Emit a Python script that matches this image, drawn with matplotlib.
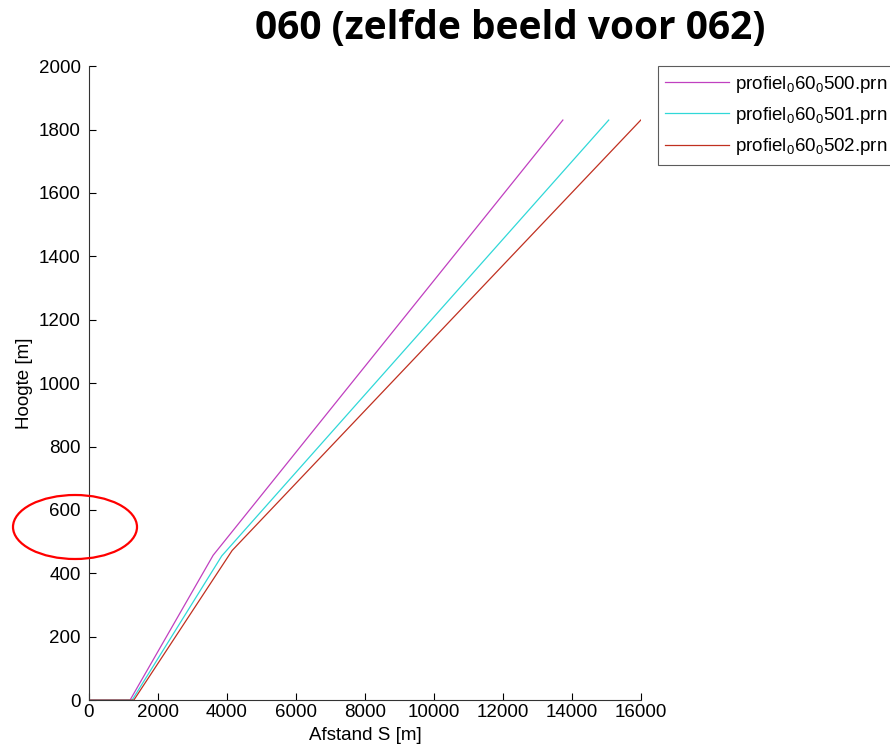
import matplotlib.pyplot as plt
from matplotlib.patches import Ellipse

# profile data (distance S [m], height [m])
s_500 = [0, 1190, 3600, 13740]
h_500 = [0, 0, 457, 1830]
s_501 = [0, 1250, 3850, 15070]
h_501 = [0, 0, 455, 1830]
s_502 = [0, 1300, 4150, 16000]
h_502 = [0, 0, 472, 1830]

labels = [r"profiel$_0$60$_0$500.prn", r"profiel$_0$60$_0$501.prn", r"profiel$_0$60$_0$502.prn"]
colors = ["#c040c0", "#30d8d8", "#c03020"]

x_ticks = list(range(0, 16001, 2000))
y_ticks = list(range(0, 2001, 200))

plt.rcParams["font.family"] = ["Liberation Sans", "DejaVu Sans"]
plt.rcParams["mathtext.fontset"] = "custom"
plt.rcParams["mathtext.rm"] = "Liberation Sans"

fs = 13.5

fig = plt.figure(figsize=(8.9, 7.52), dpi=100)
ax = fig.add_axes([0.1, 0.069, 0.62, 0.843])

for s, h, c, lab in zip([s_500, s_501, s_502], [h_500, h_501, h_502], colors, labels):
    ax.plot(s, h, c=c, lw=0.9, label=lab)

ax.set_xlim(0, 16000)
ax.set_ylim(0, 2000)
ax.set_xticks(x_ticks)
ax.set_yticks(y_ticks)
ax.tick_params(direction="in", length=5, labelsize=fs, width=0.8)
ax.tick_params(axis="y", pad=6)
ax.tick_params(axis="x", pad=3)
for side in ["top", "right"]:
    ax.spines[side].set_visible(False)
for side in ["left", "bottom"]:
    ax.spines[side].set_color("#333333")
ax.set_xlabel("Afstand S [m]", fontsize=fs, labelpad=4)
ax.set_ylabel("Hoogte [m]", fontsize=fs, labelpad=4)

leg = ax.legend(loc="upper left", bbox_to_anchor=(0.739, 0.912), bbox_transform=fig.transFigure,
                fontsize=fs, frameon=True, fancybox=False, edgecolor="#333333",
                handlelength=3.4, labelspacing=0.55, borderaxespad=0, handletextpad=0.3,
                borderpad=0.4)
leg.get_frame().set_linewidth(0.8)

fig.text(0.573, 0.962, "060 (zelfde beeld voor 062)", ha="center", va="center",
         fontsize=28, fontweight="bold", family=["Open Sans", "DejaVu Sans"])

# red ellipse marking the 600 m tick
fig.add_artist(Ellipse((75 / 890, 1 - 527 / 752), 124 / 890, 64 / 752,
                       transform=fig.transFigure, fill=False, ec="red", lw=1.6))

fig.savefig("out.png", dpi=100)
